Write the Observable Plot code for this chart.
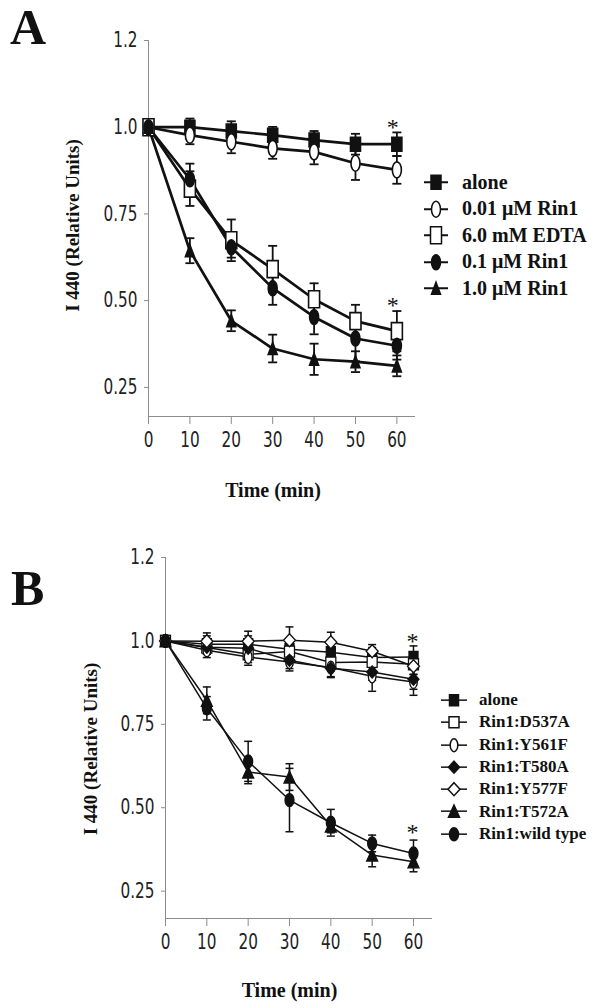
<!DOCTYPE html>
<html><head><meta charset="utf-8">
<script src="https://cdn.jsdelivr.net/npm/d3@7"></script>
<script src="https://cdn.jsdelivr.net/npm/@observablehq/plot@0.6"></script>
<style>
body{margin:0;background:#fff;}
#wrap{position:relative;width:600px;height:1008px;overflow:hidden;background:#fff;}
.panel{position:absolute;left:0;}
.letter{position:absolute;font-family:"Liberation Serif","Times New Roman",serif;font-weight:bold;font-size:50px;line-height:1.11;color:#111;}
.legend{position:absolute;font-family:"Liberation Serif","Times New Roman",serif;font-weight:bold;color:#111;}
.legend .row{display:flex;align-items:center;white-space:nowrap;}
.legend svg{display:block;overflow:visible;}
</style></head><body><div id="wrap"></div><script>
// ---------- data ----------
const times = [0, 10, 20, 30, 40, 50, 60];
const xTicks = [0, 10, 20, 30, 40, 50, 60];
const yTicks = [0.25, 0.5, 0.75, 1.0, 1.25];
const yTickLabels = ["0.25", "0.50", "0.75", "1.0", "1.2"];

// Panel A
const seriesA = ["alone", "0.01 μM Rin1", "6.0 mM EDTA", "0.1 μM Rin1", "1.0 μM Rin1"];
const aAlone    = [1.0, 1.0, 0.989, 0.977, 0.963, 0.951, 0.951];
const aAloneErr = [0.012, 0.025, 0.028, 0.024, 0.026, 0.03, 0.034];
const aRin001    = [1.0, 0.977, 0.958, 0.939, 0.929, 0.896, 0.877];
const aRin001Err = [0.012, 0.026, 0.033, 0.03, 0.036, 0.048, 0.04];
const aEDTA    = [1.0, 0.823, 0.674, 0.591, 0.504, 0.441, 0.412];
const aEDTAErr = [0.012, 0.05, 0.06, 0.067, 0.046, 0.047, 0.058];
const aRin01    = [1.0, 0.85, 0.654, 0.536, 0.453, 0.391, 0.37];
const aRin01Err = [0.012, 0.045, 0.03, 0.048, 0.05, 0.066, 0.04];
const aRin1    = [1.0, 0.644, 0.442, 0.362, 0.331, 0.324, 0.312];
const aRin1Err = [0.012, 0.036, 0.03, 0.04, 0.045, 0.03, 0.03];
const valuesA = [aAlone, aRin001, aEDTA, aRin01, aRin1];
const errorsA = [aAloneErr, aRin001Err, aEDTAErr, aRin01Err, aRin1Err];
const starTimesA = [60, 60];
const starValuesA = [1.0, 0.487];

// Panel B
const seriesB = ["alone", "Rin1:D537A", "Rin1:Y561F", "Rin1:T580A", "Rin1:Y577F", "Rin1:T572A", "Rin1:wild type"];
const bAlone    = [1.0, 0.99, 0.99, 0.975, 0.966, 0.95, 0.952];
const bAloneErr = [0.01, 0.025, 0.025, 0.03, 0.03, 0.03, 0.033];
const bD537A    = [1.0, 0.98, 0.96, 0.968, 0.935, 0.937, 0.93];
const bD537AErr = [0.01, 0.02, 0.025, 0.025, 0.025, 0.03, 0.03];
const bY561F    = [1.0, 0.972, 0.952, 0.937, 0.92, 0.894, 0.877];
const bY561FErr = [0.01, 0.022, 0.025, 0.027, 0.03, 0.045, 0.04];
const bT580A    = [1.0, 0.981, 0.978, 0.942, 0.918, 0.907, 0.885];
const bT580AErr = [0.01, 0.02, 0.02, 0.025, 0.025, 0.025, 0.03];
const bY577F    = [1.0, 0.999, 0.999, 1.002, 0.996, 0.969, 0.924];
const bY577FErr = [0.01, 0.025, 0.03, 0.04, 0.03, 0.02, 0.025];
const bT572A    = [1.0, 0.822, 0.607, 0.592, 0.445, 0.358, 0.338];
const bT572AErr = [0.01, 0.04, 0.035, 0.04, 0.02, 0.035, 0.03];
const bWild     = [1.0, 0.798, 0.639, 0.523, 0.455, 0.393, 0.363];
const bWildErr  = [0.01, 0.035, 0.06, 0.095, 0.04, 0.025, 0.04];
const valuesB = [bAlone, bD537A, bY561F, bT580A, bY577F, bT572A, bWild];
const errorsB = [bAloneErr, bD537AErr, bY561FErr, bT580AErr, bY577FErr, bT572AErr, bWildErr];
const starTimesB = [60, 60];
const starValuesB = [1.0, 0.425];

const yTitle = "I 440 (Relative Units)";
const xTitle = "Time (min)";

// ---------- symbols ----------
const ell = (hw, hh) => ({draw(c){const k=0.5523;c.moveTo(hw,0);c.bezierCurveTo(hw,hh*k,hw*k,hh,0,hh);c.bezierCurveTo(-hw*k,hh,-hw,hh*k,-hw,0);c.bezierCurveTo(-hw,-hh*k,-hw*k,-hh,0,-hh);c.bezierCurveTo(hw*k,-hh,hw,-hh*k,hw,0);c.closePath();}});
const rect = (hw, hh) => ({draw(c){c.moveTo(-hw,-hh);c.lineTo(hw,-hh);c.lineTo(hw,hh);c.lineTo(-hw,hh);c.closePath();}});
const tri = (hw, hh) => ({draw(c){c.moveTo(0,-hh);c.lineTo(hw,hh);c.lineTo(-hw,hh);c.closePath();}});
const dia = (hw, hh) => ({draw(c){c.moveTo(0,-hh);c.lineTo(hw,0);c.lineTo(0,hh);c.lineTo(-hw,0);c.closePath();}});
const cap = (hw) => ({draw(c){c.moveTo(-hw,0);c.lineTo(hw,0);}});

const INK = "#111";
const stylesA = [
  {sym: rect(5, 7), fill: INK},
  {sym: ell(4.5, 8), fill: "white"},
  {sym: rect(5.5, 8.5), fill: "white"},
  {sym: ell(4.5, 7.5), fill: INK},
  {sym: tri(4.5, 6), fill: INK}
];
const stylesB = [
  {sym: rect(4.5, 5.5), fill: INK},
  {sym: rect(5, 5.5), fill: "white"},
  {sym: ell(3.8, 6.5), fill: "white"},
  {sym: dia(5.5, 6), fill: INK},
  {sym: dia(6, 6.5), fill: "white"},
  {sym: tri(5.5, 6), fill: INK},
  {sym: ell(4.5, 6.5), fill: INK}
];

function tidy(names, vals, errs) {
  const rows = [];
  names.forEach((s, i) => times.forEach((t, j) => rows.push({series: s, idx: i, t, v: vals[i][j], e: errs[i][j]})));
  return rows;
}

const TICK_FONT = "'Liberation Sans Narrow','DejaVu Sans Condensed','Arial Narrow',sans-serif";
const SERIF = "'Liberation Serif','Times New Roman',serif";

function panel(cfg) {
  const rows = tidy(cfg.names, cfg.values, cfg.errors);
  const marks = [
    Plot.ruleX([0], {y1: cfg.yDomain[0], y2: cfg.yDomain[1], stroke: "#8c8c8c", strokeWidth: 1}),
    Plot.ruleY([cfg.yDomain[0]], {stroke: "#8c8c8c", strokeWidth: 1}),
    Plot.axisY({ticks: yTicks, tickFormat: (d) => yTickLabels[yTicks.indexOf(d)], tickSize: 4, tickPadding: 7,
      stroke: "#8c8c8c", fill: "#222", fontSize: 17, fontFamily: TICK_FONT, label: null}),
    Plot.axisX({ticks: xTicks, tickFormat: (d) => String(d), tickSize: 8, tickPadding: 8,
      stroke: "#8c8c8c", fill: "#222", fontSize: 17, fontFamily: TICK_FONT, label: null}),
    Plot.line(rows, {x: "t", y: "v", z: "series", stroke: INK, strokeWidth: cfg.lineWidth, strokeLinejoin: "round"}),
    Plot.ruleX(rows, {x: "t", y1: (d) => d.v - d.e, y2: (d) => d.v + d.e, stroke: INK, strokeWidth: cfg.errWidth}),
    Plot.dot(rows, {x: "t", y: (d) => d.v + d.e, symbol: cap(cfg.capHalf), fill: "none", stroke: INK, strokeWidth: cfg.errWidth}),
    Plot.dot(rows, {x: "t", y: (d) => d.v - d.e, symbol: cap(cfg.capHalf), fill: "none", stroke: INK, strokeWidth: cfg.errWidth})
  ];
  cfg.names.forEach((s, i) => {
    const st = cfg.styles[i];
    marks.push(Plot.dot(rows.filter((d) => d.idx === i), {x: "t", y: "v", symbol: st.sym, fill: st.fill, stroke: INK, strokeWidth: cfg.markerStroke}));
  });
  marks.push(Plot.text(cfg.starT.map((t, i) => ({t, v: cfg.starV[i]})), {x: "t", y: "v", text: () => "*", fontSize: 24, fontFamily: SERIF, fill: INK, dx: cfg.starDx}));
  marks.push(Plot.text([yTitle], {frameAnchor: "left", text: (d) => d, rotate: -90, textAnchor: "middle", lineAnchor: "middle",
    dx: cfg.yTitleDx, dy: cfg.yTitleDy, fontFamily: SERIF, fontWeight: "bold", fontSize: cfg.yTitleSize, fill: INK}));
  marks.push(Plot.text([xTitle], {frameAnchor: "bottom", text: (d) => d, textAnchor: "middle", lineAnchor: "middle",
    dx: cfg.xTitleDx, dy: cfg.xTitleDy, fontFamily: SERIF, fontWeight: "bold", fontSize: 20, fill: INK}));

  const svg = Plot.plot({
    width: 600, height: 504,
    marginLeft: cfg.marginLeft, marginRight: cfg.marginRight, marginTop: cfg.marginTop, marginBottom: cfg.marginBottom,
    x: {domain: cfg.xDomain, axis: null},
    y: {domain: cfg.yDomain, axis: null},
    style: {background: "transparent", overflow: "visible", fontFamily: TICK_FONT},
    marks
  });
  // vertically stretch the narrow tick labels like the original
  svg.querySelectorAll('g[aria-label="y-axis tick label"] text, g[aria-label="x-axis tick label"] text').forEach((t) => {
    const tr = t.getAttribute("transform");
    if (tr) t.setAttribute("transform", tr + " scale(1,1.22)");
    else {
      const x = t.getAttribute("x") || 0, y = t.getAttribute("y") || 0;
      t.removeAttribute("x"); t.removeAttribute("y");
      t.setAttribute("transform", `translate(${x},${y}) scale(1,1.22)`);
    }
  });
  return svg;
}

const wrap = document.getElementById("wrap");

function place(el, top) {
  const d = document.createElement("div");
  d.className = "panel"; d.style.top = top + "px";
  d.appendChild(el); wrap.appendChild(d);
}

place(panel({
  names: seriesA, values: valuesA, errors: errorsA, styles: stylesA,
  xDomain: [0, 64.5], yDomain: [0.166, 1.25],
  marginLeft: 148, marginRight: 185, marginTop: 40, marginBottom: 88,
  lineWidth: 2.7, errWidth: 1.8, capHalf: 4.5, markerStroke: 1.6,
  starT: starTimesA, starV: starValuesA, starDx: -4,
  yTitleDx: -76, yTitleDy: -3, yTitleSize: 19,
  xTitleDx: -9, xTitleDy: 74
}), 0);

place(panel({
  names: seriesB, values: valuesB, errors: errorsB, styles: stylesB,
  xDomain: [0, 64.6], yDomain: [0.168, 1.25],
  marginLeft: 165, marginRight: 168, marginTop: 53, marginBottom: 90,
  lineWidth: 1.5, errWidth: 1.5, capHalf: 4, markerStroke: 1.3,
  starT: starTimesB, starV: starValuesB, starDx: -1,
  yTitleDx: -75, yTitleDy: 11, yTitleSize: 19,
  xTitleDx: -9.5, xTitleDy: 72
}), 504);

// panel letters
[["A", 10, 0], ["B", 11, 561]].forEach(([t, l, tp]) => {
  const d = document.createElement("div");
  d.className = "letter"; d.textContent = t; d.style.left = l + "px"; d.style.top = tp + "px";
  wrap.appendChild(d);
});

// legends
function legend(names, styles, o) {
  const box = document.createElement("div");
  box.className = "legend";
  box.style.left = o.left + "px"; box.style.top = o.top + "px"; box.style.fontSize = o.fontSize + "px";
  names.forEach((n, i) => {
    const row = document.createElement("div");
    row.className = "row"; row.style.height = o.rowH + "px";
    const svg = d3.create("svg").attr("width", o.symW).attr("height", o.rowH).style("margin-right", o.gap + "px");
    svg.append("line").attr("x1", 0).attr("x2", o.symW).attr("y1", o.rowH / 2).attr("y2", o.rowH / 2)
      .attr("stroke", INK).attr("stroke-width", o.lineW);
    const p = d3.path(); styles[i].sym.draw(p);
    svg.append("path").attr("d", p.toString()).attr("transform", `translate(${o.symW / 2},${o.rowH / 2})`)
      .attr("fill", styles[i].fill).attr("stroke", INK).attr("stroke-width", 1.5);
    row.appendChild(svg.node());
    const sp = document.createElement("span"); sp.textContent = n;
    row.appendChild(sp);
    box.appendChild(row);
  });
  wrap.appendChild(box);
}
legend(seriesA, stylesA, {left: 424, top: 169, rowH: 26.5, symW: 24, gap: 14, fontSize: 20, lineW: 2});
legend(seriesB, stylesB, {left: 441, top: 689, rowH: 22.3, symW: 26, gap: 12, fontSize: 17, lineW: 1.5});
</script></body></html>
